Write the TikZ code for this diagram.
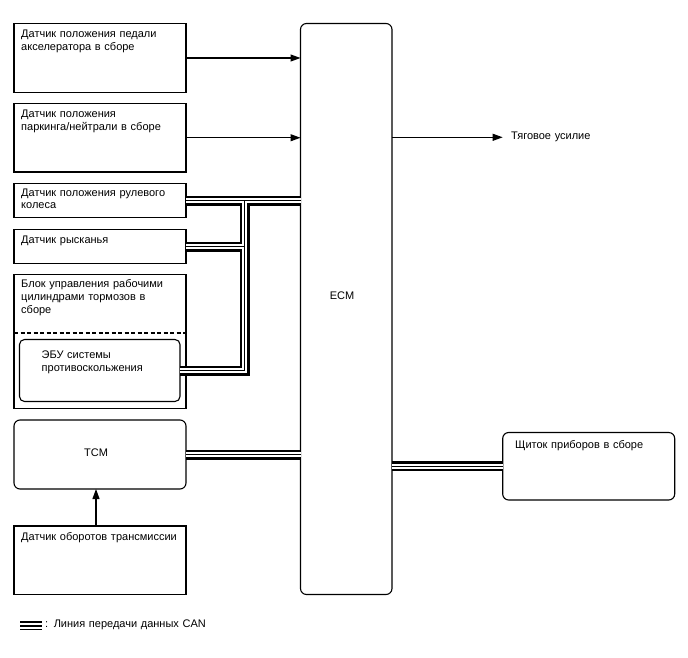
\documentclass[tikz,border=0pt]{standalone}
\usepackage{fontspec}
\setmainfont{Liberation Sans}
\usetikzlibrary{arrows.meta}
\begin{document}
\begin{tikzpicture}[x=1pt,y=-1pt,
  box/.style={draw, line width=1.1pt, anchor=north west, inner sep=0pt, outer sep=0pt},
  rbox/.style={box, rounded corners=6pt},
  txt/.style={anchor=base west, inner sep=0pt, align=left, text width=#1, font=\fontsize{11}{12.8}\selectfont},
  ctxt/.style={inner sep=0pt, font=\fontsize{11}{12.8}\selectfont},
  arr/.style={line width=1.1pt, -{Triangle[length=10pt,width=7pt]}},
  canA/.style={line width=10pt, line join=miter, draw=black},
  canB/.style={line width=5.2pt, line join=miter, draw=white},
  canC/.style={line width=1.2pt, line join=miter, draw=black}
]
\useasboundingbox (0,0) rectangle (688,658);

% boxes
\node[box, minimum width=172pt, minimum height=69pt] (acc) at (14,23.5) {};
\node[box, minimum width=172pt, minimum height=68.5pt] (pn) at (14,103.5) {};
\node[box, minimum width=172pt, minimum height=34pt] (steer) at (14,183.5) {};
\node[box, minimum width=172pt, minimum height=34pt] (yaw) at (14,229.5) {};
\node[box, minimum width=172pt, minimum height=134pt] (brake) at (14,274.5) {};
\node[box, rounded corners=5pt, minimum width=160.5pt, minimum height=62pt] (abs) at (19.5,339.5) {};
\node[rbox, minimum width=172pt, minimum height=69pt] (tcm) at (14,420) {};
\node[box, minimum width=172pt, minimum height=68.5pt] (trans) at (14,526) {};
\node[rbox, minimum width=91.5pt, minimum height=571pt] (ecm) at (300.5,23.5) {};
\node[rbox, minimum width=172pt, minimum height=67.5pt] (cluster) at (502.7,432.5) {};

\draw[line width=1.1pt, dash pattern=on 4pt off 2.5pt] (brake.west |- 0,333) -- (brake.east |- 0,333);

% texts
\node[txt=165pt] (tacc) at (21,38) {Датчик положения педали\\акселератора в сборе};
\node[txt=165pt] (tpn) at (21,117.5) {Датчик положения\\паркинга/нейтрали в сборе};
\node[txt=165pt] (tsteer) at (21,196) {Датчик положения рулевого\\колеса};
\node[txt=165pt] (tyaw) at (21,243.5) {Датчик рысканья};
\node[txt=165pt] (tbrake) at (21,287.5) {Блок управления рабочими\\цилиндрами тормозов в\\сборе};
\node[txt=135pt] (tabs) at (41.5,358.5) {ЭБУ системы\\противоскольжения};
\node[ctxt] (ttcm) at (96,452.3) {TCM};
\node[txt=170pt] (ttrans) at (21,540.8) {Датчик оборотов трансмиссии};
\node[ctxt] (tecm) at (342,296) {ECM};
\node[txt=165pt] (tcluster) at (515,448.5) {Щиток приборов в сборе};
\node[txt=120pt] (ttrac) at (511,139.2) {Тяговое усилие};
\node[txt=200pt] (tleg) at (45,627.8) {: Линия передачи данных CAN};

% arrows
\draw[arr] (acc.east) -- (acc.east -| ecm.west);
\draw[arr] (pn.east) -- (pn.east -| ecm.west);
\coordinate (trac) at (502.7,137.3);
\draw[arr] (ecm.east |- trac) -- (trac);
\draw[arr] ([xshift=-4pt]trans.north) -- ([xshift=-4pt]tcm.south);

% CAN lines
\path (steer.east) ++(58.5,0) coordinate (jt);
\foreach \st in {canA,canB,canC}{
  \draw[\st] (steer.east) -- (ecm.west |- steer.east);
  \draw[\st] (yaw.east) -- (yaw.east -| jt) -- (jt);
  \draw[\st] (abs.east) -- (abs.east -| jt) -- (jt);
  \draw[\st] (tcm.east) -- (tcm.east -| ecm.west);
  \draw[\st] (ecm.east |- cluster.west) -- (cluster.west);
}

% legend symbol
\draw[line width=2pt] (20,621.5) -- (41.5,621.5);
\draw[line width=2pt] (20,625.5) -- (41.5,625.5);
\draw[line width=1.5pt] (20,629.5) -- (41.5,629.5);
\end{tikzpicture}
\end{document}
